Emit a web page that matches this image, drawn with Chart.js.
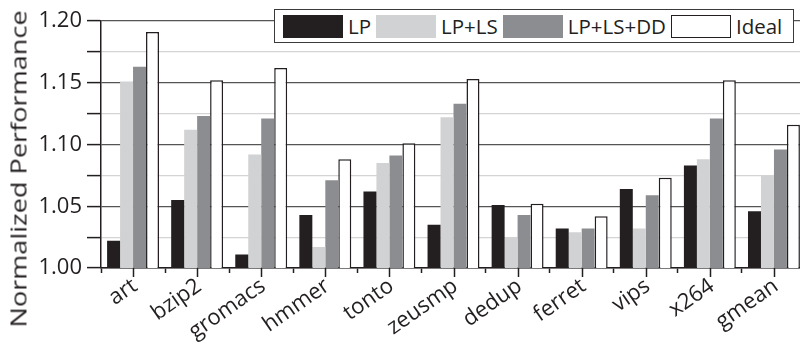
<!DOCTYPE html>
<html>
<head>
<meta charset="utf-8">
<script src="https://cdn.jsdelivr.net/npm/chart.js@4/dist/chart.umd.min.js"></script>
<style>
  html, body { margin: 0; padding: 0; background: #fff; overflow: hidden; }
  #wrap { position: relative; width: 800px; height: 344px; overflow: hidden; }
  #chart { position: absolute; left: 0; top: 0; }
  #ytitle {
    position: absolute; left: 18.5px; top: 169px; white-space: nowrap;
    font-family: "Open Sans", sans-serif; font-size: 21px; line-height: 1; color: #231f20;
    transform: translate(-50%, -50%) rotate(-90deg) scaleX(1.29);
  }
  #legend {
    position: absolute; left: 274px; top: 9px; width: 520px; height: 34px;
    border: 1px solid #3a3a3a; background: #fff;
    display: flex; align-items: center; padding-left: 8px; box-sizing: border-box;
    font-family: "Open Sans", sans-serif; font-size: 20.5px; color: #231f20;
  }
  #legend .item { display: flex; align-items: center; margin-right: 5px; }
  #legend .sw { width: 60px; height: 23px; box-sizing: border-box; margin-right: 5px; }
</style>
</head>
<body>
<div id="wrap">
  <canvas id="chart" width="808" height="344"></canvas>
  <div id="ytitle">Normalized Performance</div>
  <div id="legend"></div>
</div>
<script>
// Benchmarks along the x axis
const categories = ['art', 'bzip2', 'gromacs', 'hmmer', 'tonto', 'zeusmp', 'dedup', 'ferret', 'vips', 'x264', 'gmean'];

// Normalized performance per configuration
const lp       = [1.022, 1.055, 1.011, 1.043, 1.062, 1.035, 1.051, 1.032, 1.064, 1.083, 1.046];
const lpLs     = [1.151, 1.112, 1.092, 1.017, 1.085, 1.122, 1.025, 1.029, 1.032, 1.088, 1.075];
const lpLsDd   = [1.163, 1.123, 1.121, 1.071, 1.091, 1.133, 1.043, 1.032, 1.059, 1.121, 1.096];
const ideal    = [1.191, 1.152, 1.162, 1.088, 1.101, 1.153, 1.052, 1.042, 1.073, 1.152, 1.116];

// Y axis tick labels (major ticks); minor ticks sit halfway between
const yTickLabels = ['1.00', '1.05', '1.10', '1.15', '1.20'];

const FONT = '"Open Sans", sans-serif';
const INK = '#231f20';

const datasets = [
  { label: 'LP',       data: lp,     backgroundColor: '#231f20', borderColor: '#231f20', borderWidth: 0 },
  { label: 'LP+LS',    data: lpLs,   backgroundColor: '#d1d2d4', borderColor: '#d1d2d4', borderWidth: 0 },
  { label: 'LP+LS+DD', data: lpLsDd, backgroundColor: '#8c8d90', borderColor: '#8c8d90', borderWidth: 0 },
  { label: 'Ideal',    data: ideal,  backgroundColor: '#ffffff', borderColor: '#231f20', borderWidth: 1.5 }
];

// Longer marks under each category centre, in addition to the boundary ticks
const centreTicks = {
  id: 'centreTicks',
  afterDraw(chart) {
    const x = chart.scales.x;
    const ctx = chart.ctx;
    ctx.save();
    ctx.strokeStyle = INK;
    ctx.lineWidth = 1.5;
    categories.forEach((_, i) => {
      const px = Math.round(x.getPixelForValue(i)) + 0.5;
      ctx.beginPath();
      ctx.moveTo(px, x.top);
      ctx.lineTo(px, x.top + 9);
      ctx.stroke();
    });
    ctx.restore();
  }
};

const isMajor = v => Math.round(v * 1000) % 50 === 0;

new Chart(document.getElementById('chart'), {
  type: 'bar',
  data: { labels: categories, datasets },
  options: {
    responsive: false,
    animation: false,
    layout: { padding: { top: 21, right: 2, left: 0, bottom: 0 } },
    plugins: { legend: { display: false }, tooltip: { enabled: false } },
    datasets: { bar: { categoryPercentage: 0.81, barPercentage: 1.0 } },
    scales: {
      x: {
        grid: { offset: true, drawOnChartArea: false, tickLength: 5, tickColor: INK, tickWidth: 1.5 },
        border: { color: INK, width: 1.5 },
        ticks: {
          color: INK, font: { family: FONT, size: 22 },
          maxRotation: 35, minRotation: 35, autoSkip: false, padding: 0, labelOffset: 2
        },
        afterFit(scale) { scale.height = 76; }
      },
      y: {
        min: 1.0, max: 1.2,
        grid: {
          color: ctx => (ctx.tick && isMajor(ctx.tick.value)) ? '#555555' : '#d4d4d4',
          lineWidth: 1.2,
          tickLength: 14, tickColor: INK, tickWidth: 1.5
        },
        border: { color: INK, width: 1.5 },
        ticks: {
          stepSize: 0.025,
          color: INK, font: { family: FONT, size: 22 }, padding: 5,
          callback: v => isMajor(v) ? yTickLabels[Math.round((v - 1) / 0.05)] : ''
        },
        afterFit(scale) { scale.width = 101; }
      }
    }
  },
  plugins: [centreTicks]
});

// Legend built from the datasets
const legend = document.getElementById('legend');
datasets.forEach(ds => {
  const item = document.createElement('div');
  item.className = 'item';
  const sw = document.createElement('span');
  sw.className = 'sw';
  sw.style.background = ds.backgroundColor;
  if (ds.borderWidth) sw.style.border = '1.5px solid ' + ds.borderColor;
  const txt = document.createElement('span');
  txt.textContent = ds.label;
  item.appendChild(sw);
  item.appendChild(txt);
  legend.appendChild(item);
});
</script>
</body>
</html>
